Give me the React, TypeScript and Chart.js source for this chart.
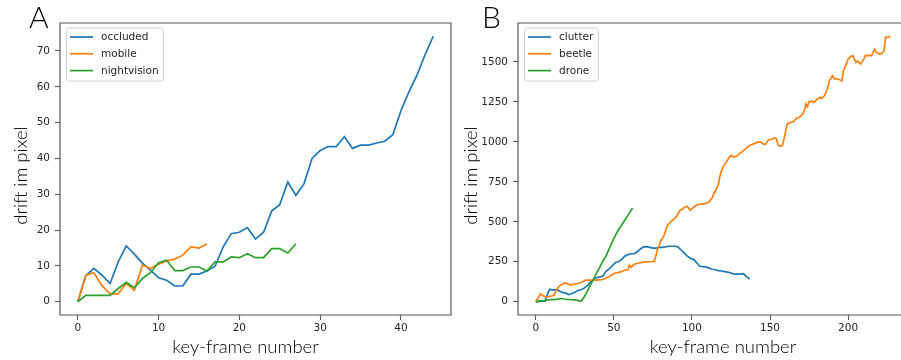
import { useEffect, useRef } from "react";
import { Chart, registerables } from "chart.js";

Chart.register(...registerables);

// ---------- Panel A data (x = key-frame index) ----------
const occluded = [0, 7.3, 9.3, 7.4, 5.1, 11.1, 15.6, 13.3, 10.8, 8.8, 6.7, 6.0, 4.4, 4.4, 7.7, 7.7, 8.6, 9.9, 15.3, 19.0, 19.4, 20.7, 17.5, 19.4, 25.3, 27.1, 33.4, 29.7, 32.9, 40.0, 42.2, 43.3, 43.3, 46.1, 42.8, 43.7, 43.7, 44.3, 44.8, 46.6, 53.3, 58.6, 63.3, 69.0, 74.1];
const mobile = [0, 7.4, 8.1, 4.5, 2.2, 2.2, 5.1, 3.2, 10.2, 9.3, 10.5, 11.4, 11.9, 13.0, 15.3, 15.0, 16.1];
const nightvision = [0, 1.8, 1.8, 1.8, 1.8, 3.7, 5.4, 3.9, 6.5, 8.1, 10.9, 11.6, 8.7, 8.7, 9.7, 9.7, 8.6, 11.1, 11.1, 12.5, 12.3, 13.4, 12.3, 12.3, 14.8, 14.8, 13.6, 16.2];

// ---------- Panel B data ----------
const clutterX = [0, 3, 6, 8, 9, 11, 13, 15, 17, 19, 21, 23, 25, 27, 29, 31, 33, 35, 37, 39, 41, 43, 45, 47, 49, 51, 53, 55, 57, 59, 61, 63, 65, 67, 69, 71, 73, 75, 77, 79, 81, 83, 85, 87, 89, 91, 93, 95, 97, 99, 101, 103, 105, 107, 109, 111, 113, 115, 117, 119, 121, 123, 125, 127, 129, 131, 133, 135, 137];
const clutterY = [0, 2, 5, 60, 78, 73, 75, 68, 58, 55, 45, 50, 60, 70, 75, 85, 100, 122, 140, 150, 155, 160, 190, 205, 225, 245, 250, 265, 285, 295, 300, 300, 312, 330, 343, 345, 340, 335, 335, 340, 340, 343, 347, 347, 347, 343, 325, 305, 285, 272, 265, 245, 222, 220, 218, 210, 203, 200, 195, 192, 188, 185, 180, 173, 173, 173, 175, 155, 142];

const beetleX = [0, 2, 3, 5, 6, 8, 10, 12, 13, 15, 17, 19, 21, 22, 24, 27, 30, 32, 35, 39, 43, 45, 47, 49, 51, 54, 57, 59, 60, 61, 63, 66, 70, 73, 76, 77, 78, 79, 80, 82, 84, 85, 87, 89, 91, 92, 94, 95, 97, 99, 101, 103, 106, 109, 111, 113, 114, 116, 117, 118, 119, 120, 122, 124, 125, 127, 129, 131, 133, 135, 137, 140, 142, 144, 146, 147, 149, 151, 153, 154, 155, 156, 158, 159, 161, 163, 165, 167, 169, 171, 172, 173, 174, 175, 177, 178, 180, 182, 183, 185, 187, 188, 190, 191, 193, 195, 196, 197, 199, 200, 202, 203, 204, 205, 206, 208, 210, 211, 213, 215, 216, 217, 218, 220, 222, 223, 224, 226, 227];
const beetleY = [0, 30, 50, 35, 31, 32, 35, 42, 70, 98, 110, 118, 110, 104, 108, 114, 125, 135, 135, 135, 139, 148, 156, 170, 180, 185, 197, 200, 229, 215, 235, 242, 249, 250, 254, 290, 330, 350, 380, 410, 470, 485, 505, 520, 545, 568, 580, 590, 597, 572, 590, 605, 610, 615, 624, 650, 676, 710, 738, 790, 821, 845, 873, 905, 915, 904, 912, 929, 945, 962, 977, 990, 998, 998, 985, 983, 1012, 1016, 1024, 1020, 985, 973, 977, 1020, 1112, 1120, 1125, 1148, 1155, 1174, 1195, 1237, 1220, 1250, 1254, 1245, 1265, 1279, 1270, 1289, 1340, 1383, 1414, 1395, 1393, 1387, 1380, 1445, 1490, 1518, 1535, 1539, 1515, 1497, 1505, 1487, 1515, 1539, 1540, 1539, 1560, 1580, 1560, 1549, 1555, 1570, 1653, 1655, 1663];

const droneX = [0, 2, 4, 6, 8, 10, 12, 14, 16, 18, 20, 22, 24, 26, 28, 29, 31, 33, 35, 37, 39, 41, 43, 45, 47, 49, 51, 53, 55, 57, 59, 61, 62];
const droneY = [0, 5, 6, 6, 12, 14, 13, 16, 20, 17, 15, 14, 12, 10, 5, 4, 30, 65, 105, 140, 180, 215, 255, 285, 330, 375, 415, 450, 480, 510, 540, 570, 585];

// ---------- Ticks ----------
const xTicksA = [0, 10, 20, 30, 40];
const yTicksA = [0, 10, 20, 30, 40, 50, 60, 70];
const xTicksB = [0, 50, 100, 150, 200];
const yTicksB = [0, 250, 500, 750, 1000, 1250, 1500];

const xTitle = "key-frame number";
const yTitle = "drift im pixel";

const COLORS = ["#1f77b4", "#ff7f0e", "#2ca02c"];
const SPINE = "#595959";
const TEXT = "#262626";
const TITLE_FONT = '300 18.5px Lato';
const PANEL_FONT = '300 30px Lato';
const TICK_FONT = { family: "DejaVu Sans", size: 10.5 };
const LEGEND_FONT = '10.5px "DejaVu Sans"';

const decorPlugin = {
  id: "decor",
  afterDraw(chart: any, _args: any, o: any) {
    const { ctx, chartArea: ca } = chart;
    ctx.save();
    // spines
    ctx.strokeStyle = SPINE;
    ctx.lineWidth = 1.2;
    ctx.beginPath();
    ctx.moveTo(ca.left, ca.top);
    ctx.lineTo(ca.left, ca.bottom);
    ctx.moveTo(ca.left - 0.6, ca.bottom);
    ctx.lineTo(ca.right + 0.6, ca.bottom);
    ctx.moveTo(ca.left - 0.6, ca.top);
    ctx.lineTo(ca.right + 0.6, ca.top);
    if (o.rightSpine) {
      ctx.moveTo(ca.right, ca.top);
      ctx.lineTo(ca.right, ca.bottom);
    }
    ctx.stroke();

    // legend
    const ds = chart.data.datasets;
    ctx.font = LEGEND_FONT;
    let maxW = 0;
    ds.forEach((d: any) => { maxW = Math.max(maxW, ctx.measureText(d.label).width); });
    const bx = ca.left + 6.5;
    const by = ca.top + 5;
    const bw = 41 - 6.5 + maxW + 5;
    const bh = 53;
    const r = 3;
    ctx.beginPath();
    ctx.moveTo(bx + r, by);
    ctx.lineTo(bx + bw - r, by);
    ctx.arcTo(bx + bw, by, bx + bw, by + r, r);
    ctx.lineTo(bx + bw, by + bh - r);
    ctx.arcTo(bx + bw, by + bh, bx + bw - r, by + bh, r);
    ctx.lineTo(bx + r, by + bh);
    ctx.arcTo(bx, by + bh, bx, by + bh - r, r);
    ctx.lineTo(bx, by + r);
    ctx.arcTo(bx, by, bx + r, by, r);
    ctx.closePath();
    ctx.fillStyle = "rgba(255,255,255,0.85)";
    ctx.fill();
    ctx.strokeStyle = "#d2d2d2";
    ctx.lineWidth = 1;
    ctx.stroke();
    ds.forEach((d: any, i: number) => {
      const y = ca.top + 14 + i * 16.8;
      ctx.strokeStyle = d.borderColor;
      ctx.lineWidth = 1.7;
      ctx.beginPath();
      ctx.moveTo(ca.left + 10, y);
      ctx.lineTo(ca.left + 33, y);
      ctx.stroke();
      ctx.fillStyle = TEXT;
      ctx.textBaseline = "middle";
      ctx.textAlign = "left";
      ctx.fillText(d.label, ca.left + 41, y + 0.5);
    });

    // axis titles and panel letter
    ctx.fillStyle = "#000";
    ctx.font = TITLE_FONT;
    ctx.textBaseline = "alphabetic";
    ctx.textAlign = "center";
    ctx.fillText(o.xTitle, ca.left + o.xTitleDx, ca.bottom + 37.5);
    ctx.save();
    ctx.translate(ca.left - o.yTitleDx, 175.5);
    ctx.rotate(-Math.PI / 2);
    ctx.fillText(o.yTitle, 0, 0);
    ctx.restore();
    ctx.font = PANEL_FONT;
    ctx.textAlign = "left";
    ctx.fillText(o.panel, ca.left - o.panelDx, ca.top + 5);
    ctx.restore();
  },
};

type Series = { label: string; xs: number[]; ys: number[] };

function makeConfig(series: Series[], xr: [number, number], yr: [number, number], xt: number[], yt: number[], pad: any, decor: any) {
  const n = series.length;
  return {
    type: "line",
    data: {
      datasets: series.map((s, i) => ({
        label: s.label,
        data: s.ys.map((y, j) => ({ x: s.xs[j], y })),
        borderColor: COLORS[i],
        backgroundColor: COLORS[i],
        borderWidth: 1.7,
        pointRadius: 0,
        tension: 0,
        fill: false,
        order: n - i,
      })),
    },
    options: {
      animation: false,
      responsive: false,
      devicePixelRatio: 1,
      layout: { padding: pad },
      plugins: { legend: { display: false }, tooltip: { enabled: false }, decor },
      scales: {
        x: {
          type: "linear",
          min: xr[0],
          max: xr[1],
          afterBuildTicks: (s: any) => { s.ticks = xt.map((v) => ({ value: v })); },
          afterFit: (s: any) => { s.height = 45; },
          ticks: { font: TICK_FONT, color: TEXT, padding: 2, maxRotation: 0, autoSkip: false, callback: (v: any) => String(v) },
          grid: { display: true, drawOnChartArea: false, drawTicks: true, tickLength: 5, tickColor: SPINE, tickWidth: 1.1 },
          border: { display: false },
        },
        y: {
          type: "linear",
          min: yr[0],
          max: yr[1],
          afterBuildTicks: (s: any) => { s.ticks = yt.map((v) => ({ value: v })); },
          afterFit: (s: any) => { s.width = 60; },
          ticks: { font: TICK_FONT, color: TEXT, padding: 5, autoSkip: false, callback: (v: any) => String(v) },
          grid: { display: true, drawOnChartArea: false, drawTicks: true, tickLength: 5, tickColor: SPINE, tickWidth: 1.1 },
          border: { display: false },
        },
      },
    },
    plugins: [decorPlugin],
  };
}

const idx = (a: number[]) => a.map((_, i) => i);

function Panel({ config, left, width }: { config: any; left: number; width: number }) {
  const ref = useRef<HTMLCanvasElement>(null);
  useEffect(() => {
    if (!ref.current) return;
    const chart = new Chart(ref.current, config);
    return () => chart.destroy();
  }, [config]);
  return <canvas ref={ref} width={width} height={360} style={{ position: "absolute", left, top: 0, width, height: 360 }} />;
}

const configA = makeConfig(
  [
    { label: "occluded", xs: idx(occluded), ys: occluded },
    { label: "mobile", xs: idx(mobile), ys: mobile },
    { label: "nightvision", xs: idx(nightvision), ys: nightvision },
  ],
  [-2.2, 46.2],
  [-3.7, 77.8],
  xTicksA,
  yTicksA,
  { left: 0, right: 9, top: 23, bottom: 0 },
  { rightSpine: true, xTitle, yTitle, panel: "A", xTitleDx: 185.5, yTitleDx: 33, panelDx: 31 }
);

const configB = makeConfig(
  [
    { label: "clutter", xs: clutterX, ys: clutterY },
    { label: "beetle", xs: beetleX, ys: beetleY },
    { label: "drone", xs: droneX, ys: droneY },
  ],
  [-11.35, 233.85],
  [-83, 1743],
  xTicksB,
  yTicksB,
  { left: 0, right: 0, top: 23, bottom: 0 },
  { rightSpine: false, xTitle, yTitle, panel: "B", xTitleDx: 205, yTitleDx: 41.3, panelDx: 36 }
);

export default function App() {
  return (
    <div style={{ position: "fixed", left: 0, top: 0, width: 901, height: 360, overflow: "hidden", background: "#fff" }}>
      <Panel config={configA} left={0} width={460} />
      <Panel config={configB} left={458} width={443} />
    </div>
  );
}
